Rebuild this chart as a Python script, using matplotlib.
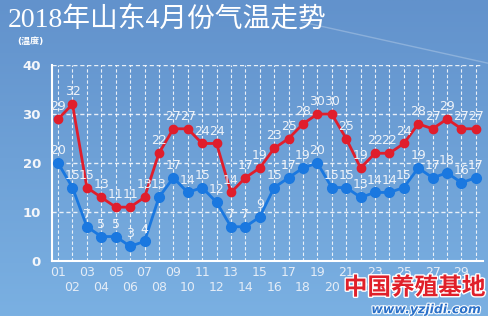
import numpy as np
import matplotlib
matplotlib.use("Agg")
import matplotlib.pyplot as plt
import matplotlib.patheffects as pe

plt.rcParams['font.family'] = ['DejaVu Sans', 'Noto Sans CJK SC']

#----------DATA--------
days = list(range(1, 31))
day_labels = ["%02d" % d for d in days]
high_temp = [29, 32, 15, 13, 11, 11, 13, 22, 27, 27, 24, 24, 14, 17, 19,
             23, 25, 28, 30, 30, 25, 19, 22, 22, 24, 28, 27, 29, 27, 27]
low_temp = [20, 15, 7, 5, 5, 3, 4, 13, 17, 14, 15, 12, 7, 7, 9,
            15, 17, 19, 20, 15, 15, 13, 14, 14, 15, 19, 17, 18, 16, 17]
y_ticks = [0, 10, 20, 30, 40]

#----------FIGURE--------
fig = plt.figure(figsize=(4.88, 3.16), dpi=100)

#Background gradient
bg = fig.add_axes([0, 0, 1, 1])
top_col = np.array([98, 146, 204]) / 255.0
bot_col = np.array([122, 176, 226]) / 255.0
t = np.linspace(0, 1, 200)[:, None]
grad = top_col * (1 - t) + bot_col * t
bg.imshow(grad[:, None, :].repeat(2, axis=1), aspect="auto", extent=[0, 1, 0, 1])
bg.plot([0.62, 1.0], [0.93, 0.80], color="white", alpha=0.25, lw=1)
bg.set_xlim(0, 1)
bg.set_ylim(0, 1)
bg.axis("off")

ax = fig.add_axes([0.1066, 0.174, 0.883, 0.620])
ax.patch.set_alpha(0)
ax.set_xlim(0.58, 30.49)
ax.set_ylim(0, 40)

#Grid
for y in y_ticks[1:]:
    ax.axhline(y, color="white", lw=1, ls=(0, (3, 2)), alpha=0.85)
for d in days:
    ax.axvline(d, color="white", lw=0.8, ls=(0, (3, 2)), alpha=0.85)

for s in ["top", "right"]:
    ax.spines[s].set_visible(False)
for s in ["left", "bottom"]:
    ax.spines[s].set_color("white")
    ax.spines[s].set_linewidth(1.5)

ax.plot(days, high_temp, "o-", color="#e01e2c", lw=2, ms=6, zorder=3, clip_on=False)
ax.plot(days, low_temp, "o-", color="#1a78e0", lw=2, ms=7, zorder=3, clip_on=False)

#Data labels
for d, v in zip(days, high_temp):
    ax.text(d, v + 1.2, str(v), color="#eef2f8", fontsize=9, ha="center", va="bottom")
for d, v in zip(days, low_temp):
    ax.text(d, v + 1.2, str(v), color="#eef2f8", fontsize=9, ha="center", va="bottom")

#Y ticks
ax.set_yticks(y_ticks)
ax.set_yticklabels([str(y) for y in y_ticks], color="#f4f6fa", fontsize=9.5, fontweight="bold")
ax.tick_params(axis="y", length=0, pad=8)
ax.set_xticks([])

#X tick labels in two rows
for d, lab in zip(days, day_labels):
    yoff = -0.06 if d % 2 == 1 else -0.135
    ax.text(d, yoff, lab, transform=ax.get_xaxis_transform(), color="#e4ecf6",
            fontsize=9, ha="center", va="center")

#Title and unit
fig.text(0.015, 0.935, "2018年山东4月份气温走势", color="white", fontsize=20,
         family=['Liberation Serif', 'Noto Sans CJK SC'], ha="left", va="center")
fig.text(0.035, 0.87, "(温度)", color="white", fontsize=6.5, fontweight="bold",
         family=['DejaVu Sans', 'Noto Sans CJK SC'], ha="left", va="center")

#Watermark
fig.text(0.995, 0.09, "中国养殖基地", color="#e0202a", fontsize=17, fontweight="bold",
         family=['Noto Sans CJK SC'], ha="right", va="center",
         path_effects=[pe.withStroke(linewidth=2, foreground="white")])
fig.text(0.985, 0.02, "www.yzjidi.com", color="#2a70c8", fontsize=9, style="italic",
         fontweight="bold", ha="right", va="center",
         path_effects=[pe.withStroke(linewidth=1.5, foreground="white")])

fig.savefig("out.png", dpi=100)
